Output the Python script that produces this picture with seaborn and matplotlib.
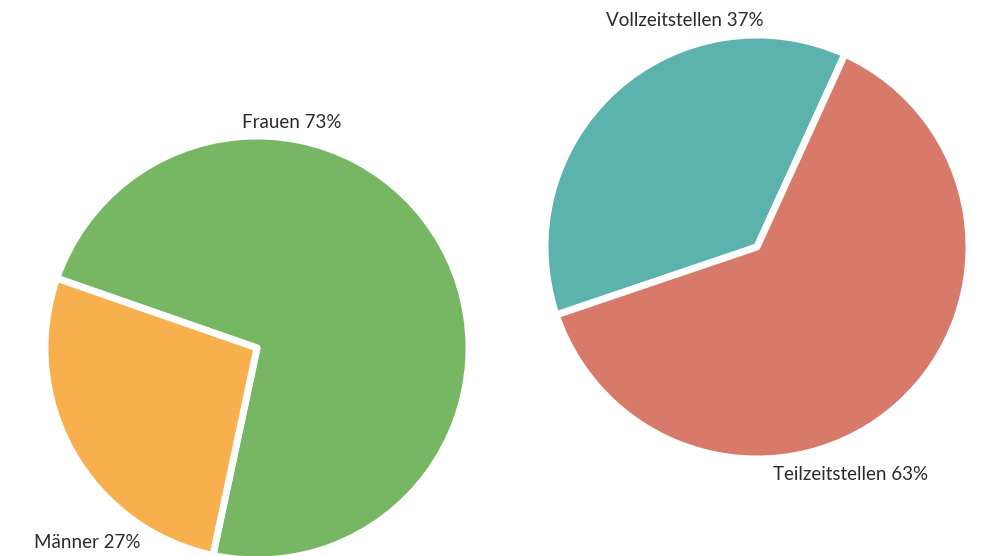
import matplotlib
matplotlib.use("Agg")
import matplotlib.pyplot as plt
import seaborn as sns

sns.set_theme(style="white")
plt.rcParams['font.family'] = ['Lato', 'DejaVu Sans']

gender_labels = ["Frauen", "Männer"]
gender_values = [73, 27]
gender_colors = ["#77b764", "#f7b04d"]

job_labels = ["Vollzeitstellen", "Teilzeitstellen"]
job_values = [37, 63]
job_colors = ["#5cb3ae", "#d77a69"]

W, H = 982, 556
fig = plt.figure(figsize=(W / 100, H / 100), dpi=100)
fig.patch.set_facecolor("white")

def pie_axes(cx, cy, r):
    # cx, cy in pixels from top-left
    return fig.add_axes([(cx - r) / W, (H - cy - r) / H, 2 * r / W, 2 * r / H])

wp = dict(edgecolor="white", linewidth=5, joinstyle="round")

ax1 = pie_axes(257, 348, 212)
ax1.pie(gender_values, colors=gender_colors, startangle=-102, counterclock=True,
        wedgeprops=wp, radius=1.0)
ax1.set_xlim(-1, 1); ax1.set_ylim(-1, 1); ax1.set_aspect("equal")
ax1.axis("off")

ax2 = pie_axes(757, 247, 212)
ax2.pie(job_values, colors=job_colors, startangle=65.5, counterclock=True,
        wedgeprops=wp, radius=1.0)
ax2.set_xlim(-1, 1); ax2.set_ylim(-1, 1); ax2.set_aspect("equal")
ax2.axis("off")

tc = "#2b2b2b"
fs = 13.5
fig.text(292 / W, 1 - 122 / H, f"{gender_labels[0]} {gender_values[0]}%", ha="center", va="center", fontsize=fs, color=tc)
fig.text(87 / W, 1 - 543 / H, f"{gender_labels[1]} {gender_values[1]}%", ha="center", va="center", fontsize=fs, color=tc)
fig.text(685 / W, 1 - 21 / H, f"{job_labels[0]} {job_values[0]}%", ha="center", va="center", fontsize=fs, color=tc)
fig.text(851 / W, 1 - 475 / H, f"{job_labels[1]} {job_values[1]}%", ha="center", va="center", fontsize=fs, color=tc)

fig.savefig("out.png", dpi=100, facecolor="white")
